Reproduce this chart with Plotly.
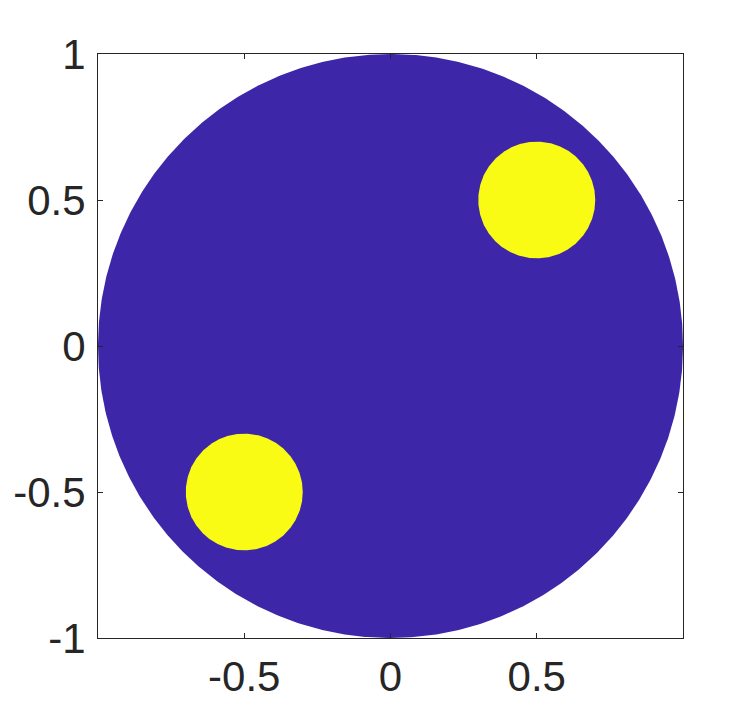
import numpy as np
import plotly.graph_objects as go

# Data: disks (center x, center y, radius, colour value)
disk_names = ["domain", "inclusion 1", "inclusion 2"]
disk_cx = [0.0, 0.5, -0.5]
disk_cy = [0.0, 0.5, -0.5]
disk_r = [1.0, 0.2, 0.2]
disk_colors = ["#3E26A8", "#F9FB15", "#F9FB15"]

x_ticks = [-0.5, 0, 0.5]
x_ticklabels = ["-0.5", "0", "0.5"]
y_ticks = [-1, -0.5, 0, 0.5, 1]
y_ticklabels = ["-1", "-0.5", "0", "0.5", "1"]

theta = np.linspace(0, 2 * np.pi, 721)
fig = go.Figure()
for name, cx, cy, r, c in zip(disk_names, disk_cx, disk_cy, disk_r, disk_colors):
    fig.add_trace(go.Scatter(
        x=cx + r * np.cos(theta), y=cy + r * np.sin(theta),
        mode="lines", fill="toself", fillcolor=c,
        line=dict(width=0, color=c), name=name, hoverinfo="skip",
    ))

axis_common = dict(
    showgrid=False, zeroline=False, showline=True, linecolor="#262626",
    linewidth=1, mirror="ticks", ticks="inside", ticklen=5, tickcolor="#262626",
    automargin=False,
    tickfont=dict(family="Liberation Sans, Arial", size=42, color="#262626"),
)
fig.update_layout(
    width=756, height=718,
    margin=dict(l=90, r=81, t=46, b=88),
    paper_bgcolor="white", plot_bgcolor="white",
    showlegend=False,
    xaxis=dict(range=[-1, 1], tickvals=x_ticks, ticktext=x_ticklabels,
               ticklabelstandoff=2, **axis_common),
    yaxis=dict(range=[-1, 1], tickvals=y_ticks, ticktext=y_ticklabels,
               ticklabelstandoff=3, **axis_common),
)
fig.write_html("out.html")
